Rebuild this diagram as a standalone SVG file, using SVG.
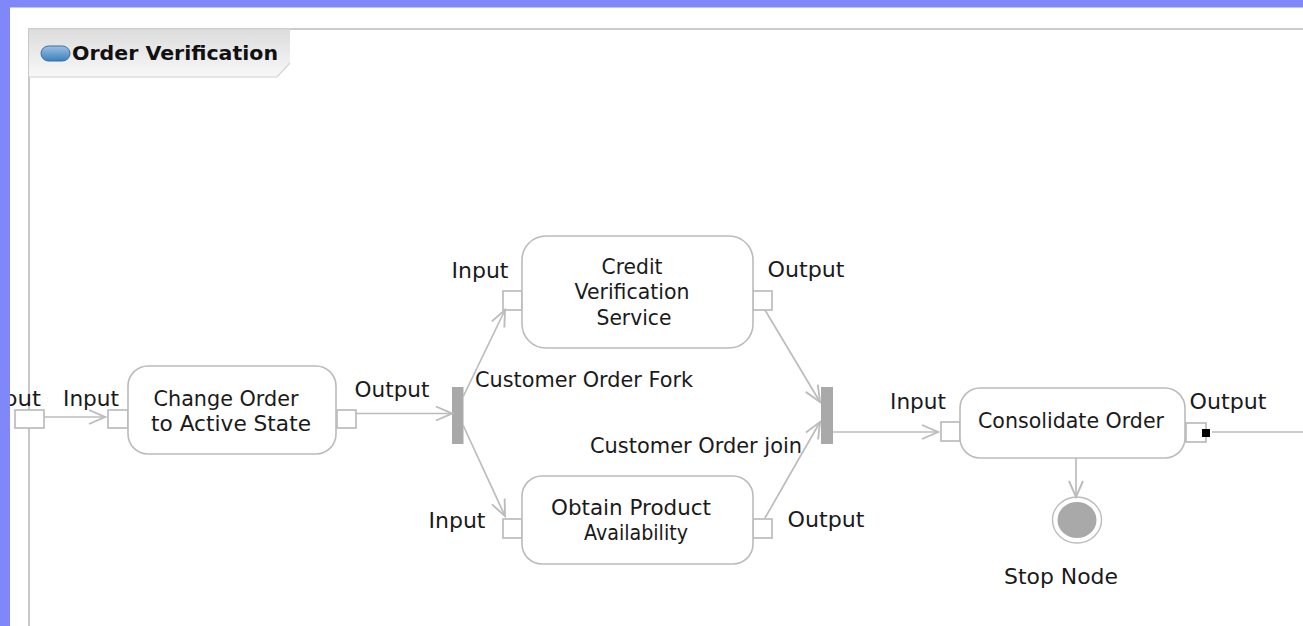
<svg xmlns="http://www.w3.org/2000/svg" width="1303" height="626" viewBox="0 0 1303 626">
<style>
.t{font-family:"DejaVu Sans","Liberation Sans",sans-serif;font-size:20.5px;fill:#1a1a1a;text-anchor:middle;transform:translateY(.8px)}
.b{fill:#fff;stroke:#bdbaba;stroke-width:1.6}
.p{fill:#fff;stroke:#b8b8b8;stroke-width:1.6}
.c{fill:none;stroke:#bcbcbc;stroke-width:1.7}
.bar{fill:#a9a9a9}
</style>
<defs>
<linearGradient id="tab" x1="0" y1="0" x2="0" y2="1"><stop offset="0" stop-color="#dcdcdc"/><stop offset="1" stop-color="#f8f8f8"/></linearGradient>
<linearGradient id="pill" x1="0" y1="0" x2="0" y2="1"><stop offset="0" stop-color="#9cc0e4"/><stop offset="1" stop-color="#3d7fbd"/></linearGradient>
<marker id="arr" markerUnits="userSpaceOnUse" markerWidth="20" markerHeight="20" refX="18" refY="10" orient="auto"><path d="M2 3L18 10L2 17" fill="none" stroke="#bcbcbc" stroke-width="1.9"/></marker>
</defs>
<rect width="1303" height="626" fill="#fff"/>
<g id="partition">
<path d="M29 626V29H1303" fill="none" stroke="#bdbaba" stroke-width="1.6"/>
<path d="M29 29H290V63L277 77H29Z" fill="url(#tab)"/>
<path d="M29 29H290M29 77H277L290 63" fill="none" stroke="#d4d2d2" stroke-width="1.2"/>
<rect x="41" y="46" width="29" height="15" rx="7.5" fill="url(#pill)" stroke="#3a6f9f"/>
<text x="175" y="60" style="font-family:'DejaVu Sans',sans-serif;font-size:20px;font-weight:700;fill:#111;text-anchor:middle" textLength="206" lengthAdjust="spacingAndGlyphs">Order Verification</text>
</g>
<g id="start-output"><rect class="p" x="15" y="410" width="29" height="18"/><text class="t" x="22" y="405" textLength="38" lengthAdjust="spacingAndGlyphs">put</text></g>
<g id="change-order">
<rect class="p" x="108" y="410" width="20" height="18"/>
<rect class="p" x="337" y="410" width="19" height="18"/>
<rect class="b" x="128" y="366" width="208" height="88" rx="20"/>
<text class="t" x="226" y="405" textLength="145" lengthAdjust="spacingAndGlyphs">Change Order</text><text class="t" x="231" y="430" textLength="160" lengthAdjust="spacingAndGlyphs">to Active State</text>
<text class="t" x="91" y="405" textLength="56" lengthAdjust="spacingAndGlyphs">Input</text><text class="t" x="392" y="396" textLength="75" lengthAdjust="spacingAndGlyphs">Output</text>
</g>
<g id="fork"><rect class="bar" x="452" y="387" width="11.500" height="57"/><text class="t" x="584" y="386" textLength="218" lengthAdjust="spacingAndGlyphs">Customer Order Fork</text></g>
<g id="credit">
<rect class="p" x="503" y="291" width="19" height="19"/>
<rect class="p" x="753" y="291" width="19" height="19"/>
<rect class="b" x="522" y="236" width="231" height="112" rx="24"/>
<text class="t" x="632" y="273" textLength="61" lengthAdjust="spacingAndGlyphs">Credit</text><text class="t" x="632" y="298" textLength="115" lengthAdjust="spacingAndGlyphs">Verification</text><text class="t" x="634" y="324" textLength="75" lengthAdjust="spacingAndGlyphs">Service</text>
<text class="t" x="480" y="277" textLength="57" lengthAdjust="spacingAndGlyphs">Input</text><text class="t" x="806" y="276" textLength="77" lengthAdjust="spacingAndGlyphs">Output</text>
</g>
<g id="obtain">
<rect class="p" x="503" y="519" width="19" height="19"/>
<rect class="p" x="753" y="519" width="19" height="19"/>
<rect class="b" x="522" y="476" width="231" height="88" rx="20"/>
<text class="t" x="631" y="514" textLength="160" lengthAdjust="spacingAndGlyphs">Obtain Product</text><text class="t" x="636" y="539" textLength="104" lengthAdjust="spacingAndGlyphs">Availability</text>
<text class="t" x="457" y="527" textLength="57" lengthAdjust="spacingAndGlyphs">Input</text><text class="t" x="826" y="526" textLength="77" lengthAdjust="spacingAndGlyphs">Output</text>
</g>
<g id="join"><rect class="bar" x="821" y="387" width="12" height="57"/><text class="t" x="696" y="452" textLength="212" lengthAdjust="spacingAndGlyphs">Customer Order join</text></g>
<g id="consolidate">
<rect class="p" x="941" y="422" width="19" height="19"/>
<rect class="p" x="1186" y="423" width="20" height="19"/>
<rect class="b" x="960" y="388" width="225" height="70" rx="20"/>
<rect x="1202" y="429" width="8" height="8" fill="#000"/>
<text class="t" x="1071" y="427" textLength="186" lengthAdjust="spacingAndGlyphs">Consolidate Order</text>
<text class="t" x="918" y="408" textLength="56" lengthAdjust="spacingAndGlyphs">Input</text><text class="t" x="1228" y="408" textLength="77" lengthAdjust="spacingAndGlyphs">Output</text>
</g>
<g id="stop">
<ellipse cx="1077" cy="520" rx="24.500" ry="23" fill="#fff" stroke="#bcbcbc" stroke-width="1.4"/>
<ellipse cx="1077" cy="520" rx="19.500" ry="18" fill="#a9a9a9"/>
<text class="t" x="1061" y="583" textLength="114" lengthAdjust="spacingAndGlyphs">Stop Node</text>
</g>
<g id="connectors">
<path class="c" d="M44 417H105" marker-end="url(#arr)"/>
<path class="c" d="M356 413.500H452" marker-end="url(#arr)"/>
<path class="c" d="M463 397L505 310" marker-end="url(#arr)"/>
<path class="c" d="M463 425L505 516" marker-end="url(#arr)"/>
<path class="c" d="M765 310L820 402" marker-end="url(#arr)"/>
<path class="c" d="M765 518L820 422" marker-end="url(#arr)"/>
<path class="c" d="M833 432H938" marker-end="url(#arr)"/>
<path class="c" d="M1076 458V497" marker-end="url(#arr)"/>
<path class="c" d="M1212 432H1303"/>
</g>
<path id="frame" d="M0 0H1303V7.500H10V626H0Z" fill="#8088f8"/>
</svg>
